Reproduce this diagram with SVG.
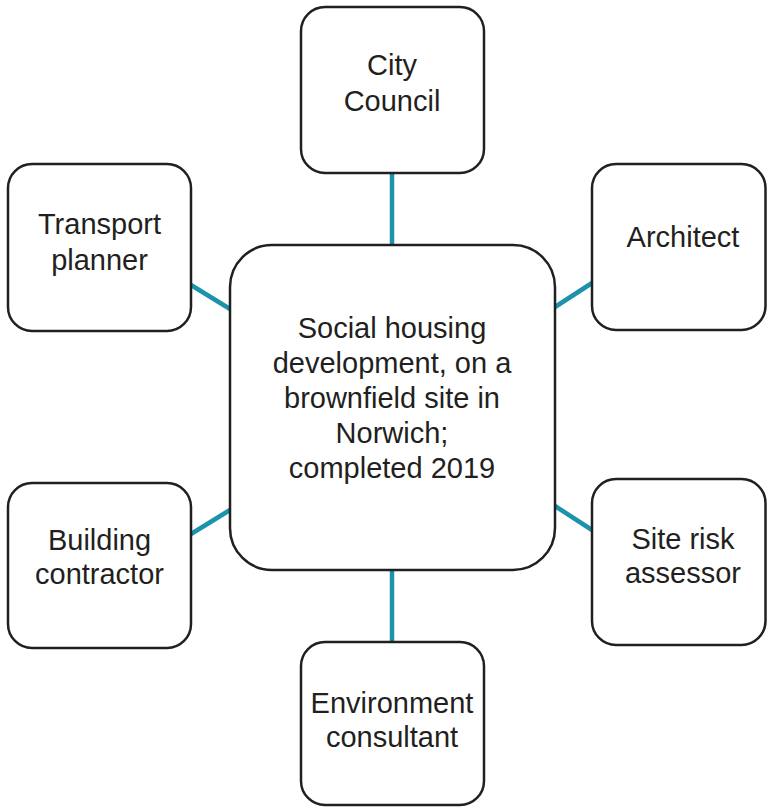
<svg xmlns="http://www.w3.org/2000/svg" width="767" height="807" viewBox="0 0 767 807">
<style>
.box{fill:#fff;stroke:#231f20;stroke-width:2.5}
.lbl{font-family:"Liberation Sans",Arial,sans-serif;font-size:29px;fill:#231f20;text-anchor:middle}
.con{stroke:#1a93ab;stroke-width:4.5;fill:none}
</style>
<rect width="767" height="807" fill="#fff"/>
<g id="connectors">
<line class="con" x1="392" y1="173" x2="392" y2="245"/>
<line class="con" x1="392" y1="570" x2="392" y2="642"/>
<line class="con" x1="191" y1="285" x2="230" y2="309"/>
<line class="con" x1="555" y1="307" x2="592" y2="283"/>
<line class="con" x1="555" y1="506" x2="592" y2="530"/>
<line class="con" x1="191" y1="534" x2="230" y2="510"/>
</g>
<g id="center">
<rect class="box" x="230" y="245" width="325" height="325" rx="42"/>
<text class="lbl"><tspan x="392" y="338">Social housing</tspan><tspan x="392" y="373">development, on a</tspan><tspan x="392" y="408">brownfield site in</tspan><tspan x="392" y="443">Norwich;</tspan><tspan x="392" y="478">completed 2019</tspan></text>
</g>
<g id="city-council">
<rect class="box" x="301" y="7" width="183" height="166" rx="24"/>
<text class="lbl"><tspan x="392" y="75">City</tspan><tspan x="392" y="111">Council</tspan></text>
</g>
<g id="architect">
<rect class="box" x="592" y="164" width="173.5" height="166" rx="24"/>
<text class="lbl" x="683" y="247">Architect</text>
</g>
<g id="site-risk">
<rect class="box" x="592" y="479" width="173.5" height="166" rx="24"/>
<text class="lbl"><tspan x="683" y="549">Site risk</tspan><tspan x="683" y="583">assessor</tspan></text>
</g>
<g id="environment">
<rect class="box" x="301" y="642" width="183" height="163" rx="24"/>
<text class="lbl"><tspan x="392" y="713">Environment</tspan><tspan x="392" y="747">consultant</tspan></text>
</g>
<g id="transport">
<rect class="box" x="8" y="164" width="183" height="167" rx="24"/>
<text class="lbl"><tspan x="99.5" y="234">Transport</tspan><tspan x="99.5" y="270">planner</tspan></text>
</g>
<g id="building">
<rect class="box" x="8" y="483" width="183" height="165" rx="24"/>
<text class="lbl"><tspan x="99.5" y="550">Building</tspan><tspan x="99.5" y="584">contractor</tspan></text>
</g>
</svg>
